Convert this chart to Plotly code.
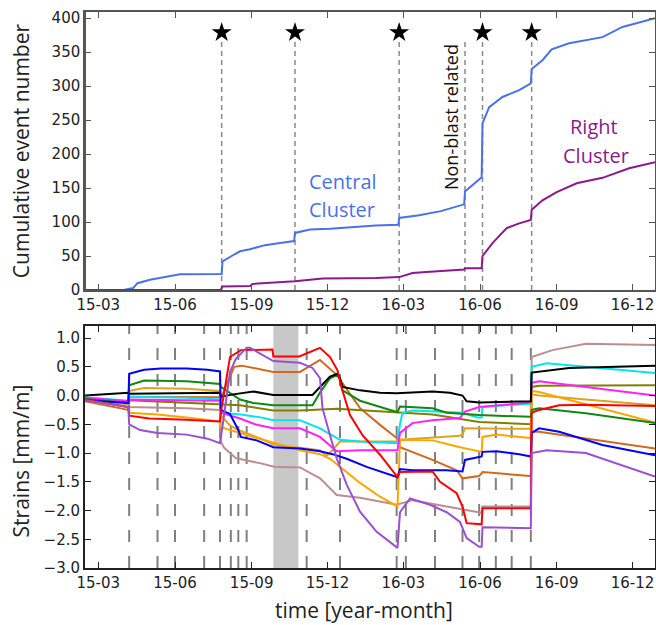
import plotly.graph_objects as go

# ---------------- top panel data: cumulative events ----------------
central_t = ["2015-02-13", "2015-03-31", "2015-04-12", "2015-04-17", "2015-05-02", "2015-05-26", "2015-06-07",
             "2015-07-27", "2015-07-28", "2015-08-08", "2015-08-18", "2015-08-30", "2015-09-17", "2015-10-05",
             "2015-10-22", "2015-10-23", "2015-11-10", "2015-12-04", "2016-01-28", "2016-02-24", "2016-02-25",
             "2016-03-20", "2016-04-15", "2016-05-13", "2016-05-14", "2016-06-03", "2016-06-04", "2016-06-12",
             "2016-06-28", "2016-07-18", "2016-08-01", "2016-08-02", "2016-08-15", "2016-08-26", "2016-09-16",
             "2016-10-26", "2016-11-19", "2016-12-28"]
central_v = [0, 0, 3, 10, 15, 20, 23, 23.5, 42, 50, 57, 60, 66, 69, 72, 84, 89, 90, 95, 96, 106,
             110, 116, 126, 145, 166, 245, 269, 284, 294, 304, 325, 338, 354, 363, 372, 387, 400]

right_t = ["2015-02-13", "2015-07-26", "2015-07-28", "2015-08-30", "2015-09-02", "2015-10-23", "2015-11-25",
           "2016-01-28", "2016-02-25", "2016-03-12", "2016-04-02", "2016-05-13", "2016-05-14", "2016-06-03",
           "2016-06-04", "2016-06-16", "2016-07-03", "2016-07-18", "2016-08-01", "2016-08-02", "2016-08-15",
           "2016-09-01", "2016-09-25", "2016-10-26", "2016-11-27", "2016-12-28"]
right_v = [0, 0.5, 5, 6, 9, 13, 17, 17.5, 19, 25, 27, 30, 32, 32, 50, 69, 91, 98, 103, 118, 132,
           144, 157, 165, 179, 188]

blast_dates = ["2015-07-27", "2015-10-23", "2016-02-25", "2016-06-04", "2016-08-02"]
nonblast_date = "2016-05-14"
star_level = 379

# ---------------- bottom panel data: strains ----------------
blue_t = ["2015-02-13", "2015-04-06", "2015-04-07", "2015-04-25", "2015-05-15", "2015-06-15", "2015-07-10",
          "2015-07-25", "2015-07-26", "2015-08-06", "2015-08-16", "2015-08-19", "2015-09-07", "2015-09-22",
          "2015-09-27", "2015-10-29", "2015-11-22", "2015-12-07", "2015-12-24", "2016-01-17", "2016-02-22",
          "2016-02-23", "2016-02-26", "2016-03-12", "2016-04-22", "2016-05-10", "2016-05-11", "2016-05-14",
          "2016-05-31", "2016-06-03", "2016-06-04", "2016-06-21", "2016-07-18", "2016-07-31", "2016-08-01",
          "2016-08-02", "2016-08-11", "2016-09-04", "2016-10-26", "2016-12-28"]
blue_v = [-0.08, -0.13, 0.38, 0.45, 0.47, 0.47, 0.45, 0.42, -0.25, -0.32, -0.6, -0.72, -0.78, -0.88,
          -0.9, -0.92, -0.97, -1.02, -1.1, -1.24, -1.42, -1.42, -1.28, -1.3, -1.3, -1.32, -1.32, -1.12,
          -1.06, -1.06, -0.98, -0.97, -1.02, -1.06, -1.06, -0.65, -0.57, -0.63, -0.86, -1.04]

green_t = ["2015-02-13", "2015-04-06", "2015-04-07", "2015-04-25", "2015-06-15", "2015-07-25", "2015-07-26",
           "2015-08-11", "2015-08-18", "2015-09-03", "2015-09-27", "2015-11-13", "2015-11-22", "2015-12-04",
           "2015-12-13", "2015-12-16", "2015-12-19", "2016-01-09", "2016-02-02", "2016-02-22", "2016-02-23",
           "2016-02-26", "2016-04-05", "2016-04-22", "2016-05-31", "2016-07-31", "2016-08-01", "2016-08-02",
           "2016-08-11", "2016-10-06", "2016-12-28"]
green_v = [-0.06, -0.13, 0.18, 0.26, 0.25, 0.2, 0.15, 0.0, -0.07, -0.13, -0.17, -0.17, 0.05, 0.3,
           0.36, 0.3, 0.09, -0.09, -0.2, -0.29, -0.29, -0.19, -0.22, -0.3, -0.34, -0.37, -0.37, -0.25,
           -0.22, -0.31, -0.48]

black_t = ["2015-02-13", "2015-04-06", "2015-04-07", "2015-06-01", "2015-07-25", "2015-07-26", "2015-08-10",
           "2015-09-03", "2015-09-27", "2015-11-13", "2015-11-22", "2015-12-04", "2015-12-13", "2015-12-16",
           "2015-12-19", "2016-01-09", "2016-02-02", "2016-02-22", "2016-04-05", "2016-04-26", "2016-05-11",
           "2016-05-16", "2016-05-31", "2016-07-31", "2016-08-01", "2016-08-02", "2016-09-16", "2016-12-28"]
black_v = [0.0, 0.05, 0.03, 0.04, 0.05, -0.02, 0.02, 0.07, 0.01, 0.01, 0.15, 0.33, 0.38, 0.3,
           0.15, 0.09, 0.05, 0.04, 0.07, 0.05, 0.0, -0.1, -0.12, -0.1, -0.1, 0.4, 0.48, 0.52]

cyan_t = ["2015-02-13", "2015-04-06", "2015-04-07", "2015-06-15", "2015-07-25", "2015-07-26", "2015-08-19",
          "2015-09-12", "2015-09-27", "2015-10-29", "2015-11-22", "2015-12-16", "2016-01-09", "2016-02-22",
          "2016-02-23", "2016-02-26", "2016-02-29", "2016-03-12", "2016-04-22", "2016-05-11", "2016-05-29",
          "2016-06-03", "2016-06-04", "2016-07-31", "2016-08-01", "2016-08-02", "2016-08-20", "2016-10-06",
          "2016-12-28"]
cyan_v = [-0.03, -0.09, -0.02, -0.04, -0.07, -0.3, -0.33, -0.38, -0.43, -0.43, -0.57, -0.77, -0.8, -0.83,
          -0.83, -0.5, -0.3, -0.26, -0.28, -0.3, -0.38, -0.38, -0.2, -0.14, -0.14, 0.5, 0.56, 0.5, 0.39]

magenta_t = ["2015-02-13", "2015-04-06", "2015-04-07", "2015-06-15", "2015-07-25", "2015-07-26", "2015-08-18",
             "2015-09-07", "2015-09-27", "2015-10-29", "2015-11-22", "2015-12-12", "2016-01-09", "2016-02-22",
             "2016-02-23", "2016-02-26", "2016-03-12", "2016-04-05", "2016-05-08", "2016-05-14", "2016-05-31",
             "2016-07-31", "2016-08-01", "2016-08-02", "2016-08-11", "2016-10-06", "2016-12-28"]
magenta_v = [-0.04, -0.1, -0.07, -0.08, -0.09, -0.3, -0.4, -0.51, -0.57, -0.57, -0.72, -0.97, -0.95, -0.95,
             -0.95, -0.65, -0.48, -0.43, -0.39, -0.28, -0.2, -0.12, -0.12, 0.22, 0.25, 0.15, 0.0]

olive_t = ["2015-02-13", "2015-04-06", "2015-04-07", "2015-06-15", "2015-07-25", "2015-08-18", "2015-09-27",
           "2015-10-29", "2015-12-12", "2016-02-22", "2016-04-05", "2016-05-31", "2016-08-01", "2016-08-02",
           "2016-08-11", "2016-12-28"]
olive_v = [-0.05, -0.12, -0.08, -0.12, -0.15, -0.17, -0.26, -0.26, -0.23, -0.29, -0.33, -0.46, -0.5, 0.15,
           0.17, 0.18]

goldenrod_t = ["2015-02-13", "2015-04-06", "2015-04-07", "2015-04-25", "2015-06-15", "2015-07-25", "2015-07-26",
               "2015-08-06", "2015-08-16", "2015-09-12", "2015-09-27", "2015-10-29", "2015-11-22", "2015-11-30",
               "2015-12-07", "2015-12-16", "2016-02-22", "2016-02-26", "2016-04-22", "2016-05-08", "2016-05-11",
               "2016-05-14", "2016-07-31", "2016-08-01", "2016-08-02", "2016-08-11", "2016-10-06", "2016-12-28"]
goldenrod_v = [-0.06, -0.15, 0.08, 0.13, 0.12, 0.08, -0.35, -0.52, -0.6, -0.75, -0.85, -0.9, -0.95, -1.05,
               -0.95, -0.8, -0.8, -0.77, -0.72, -0.7, -0.68, -0.57, -0.58, -0.58, 0.02, 0.0, -0.07, -0.17]

orange_t = ["2015-02-13", "2015-04-06", "2015-04-07", "2015-05-11", "2015-06-15", "2015-07-25", "2015-07-26",
            "2015-08-10", "2015-09-03", "2015-09-22", "2015-10-29", "2015-11-22", "2015-12-04", "2015-12-16",
            "2016-01-09", "2016-02-02", "2016-02-22", "2016-02-23", "2016-02-26", "2016-04-05", "2016-05-08",
            "2016-05-31", "2016-06-03", "2016-06-04", "2016-06-21", "2016-07-31", "2016-08-01", "2016-08-02",
            "2016-08-11", "2016-12-28"]
orange_v = [-0.08, -0.2, -0.3, -0.33, -0.38, -0.45, -0.55, -0.62, -0.72, -0.8, -0.95, -1.02, -1.1, -1.24,
            -1.52, -1.76, -1.93, -1.93, -0.77, -0.78, -0.9, -0.98, -0.98, -0.72, -0.68, -0.74, -0.74, 0.08,
            0.06, -0.47]

red_t = ["2015-02-13", "2015-04-06", "2015-04-07", "2015-05-01", "2015-06-15", "2015-07-25", "2015-07-26",
         "2015-08-06", "2015-08-19", "2015-09-26", "2015-09-27", "2015-10-28", "2015-11-22", "2015-12-04",
         "2015-12-13", "2015-12-18", "2015-12-28", "2016-01-12", "2016-02-02", "2016-02-22", "2016-02-23",
         "2016-02-26", "2016-04-05", "2016-04-14", "2016-05-04", "2016-05-11", "2016-05-16", "2016-06-03",
         "2016-06-04", "2016-08-01", "2016-08-02", "2016-08-11", "2016-09-04", "2016-10-06", "2016-12-28"]
red_v = [-0.07, -0.2, -0.35, -0.4, -0.42, -0.45, -0.3, 0.67, 0.79, 0.8, 0.68, 0.68, 0.83, 0.67,
         0.44, 0.13, -0.34, -0.69, -1.03, -1.42, -1.42, -1.33, -1.32, -1.5, -1.7, -1.93, -2.22, -2.24,
         -1.96, -1.96, -0.3, -0.25, -0.17, -0.16, -0.18]

purple_t = ["2015-02-13", "2015-04-06", "2015-04-07", "2015-04-20", "2015-05-11", "2015-06-15", "2015-07-10",
            "2015-07-25", "2015-07-30", "2015-08-06", "2015-08-13", "2015-08-26", "2015-08-30", "2015-09-27",
            "2015-10-29", "2015-11-13", "2015-11-22", "2015-11-25", "2015-12-04", "2015-12-12", "2015-12-24",
            "2016-01-09", "2016-01-29", "2016-02-22", "2016-02-23", "2016-02-26", "2016-03-09", "2016-04-02",
            "2016-04-22", "2016-05-08", "2016-05-16", "2016-05-31", "2016-06-03", "2016-06-04", "2016-07-31",
            "2016-08-01", "2016-08-02", "2016-08-20", "2016-10-06", "2016-12-28"]
purple_v = [-0.08, -0.2, -0.5, -0.6, -0.65, -0.68, -0.75, -0.83, -0.33, 0.41, 0.64, 0.83, 0.83, 0.6,
            0.57, 0.48, 0.3, -0.22, -0.69, -1.09, -1.55, -2.02, -2.37, -2.65, -2.65, -2.03, -1.79, -1.9,
            -2.03, -2.2, -2.48, -2.63, -2.63, -2.29, -2.31, -2.31, -1.0, -0.95, -1.0, -1.41]

rosy_t = ["2015-02-13", "2015-04-06", "2015-04-07", "2015-06-15", "2015-07-25", "2015-07-26", "2015-07-30",
          "2015-08-13", "2015-09-12", "2015-09-28", "2015-10-29", "2015-11-22", "2015-12-12", "2016-01-09",
          "2016-02-22", "2016-03-12", "2016-04-22", "2016-05-31", "2016-06-03", "2016-06-04", "2016-08-01",
          "2016-08-02", "2016-08-27", "2016-10-06", "2016-12-28"]
rosy_v = [-0.05, -0.15, -0.2, -0.22, -0.25, -0.8, -0.91, -1.09, -1.18, -1.24, -1.25, -1.44, -1.73, -1.78,
          -1.9, -1.82, -1.93, -2.04, -2.04, -1.93, -1.93, 0.67, 0.79, 0.9, 0.88]

choco_t = ["2015-02-13", "2015-04-06", "2015-04-07", "2015-06-15", "2015-07-25", "2015-07-26", "2015-08-11",
           "2015-08-20", "2015-09-27", "2015-10-29", "2015-11-22", "2015-12-12", "2016-01-09", "2016-02-02",
           "2016-02-22", "2016-02-26", "2016-04-05", "2016-05-04", "2016-05-11", "2016-05-31", "2016-06-04",
           "2016-07-31", "2016-08-01", "2016-08-02", "2016-08-11", "2016-12-28"]
choco_v = [-0.1, -0.25, -0.02, -0.02, -0.03, -0.05, 0.5, 0.52, 0.41, 0.41, 0.62, 0.36, -0.22, -0.51,
           -0.74, -0.9, -1.12, -1.3, -1.44, -1.4, -1.33, -1.4, -1.4, -0.63, -0.63, -0.92]

strain_events = ["2015-04-07", "2015-05-11", "2015-06-01", "2015-07-06", "2015-07-25", "2015-08-07",
                 "2015-08-16", "2015-08-26", "2015-11-06", "2015-12-16", "2016-02-22", "2016-03-04",
                 "2016-04-08", "2016-05-11", "2016-05-31", "2016-06-20", "2016-07-09", "2016-08-01"]
quiet_period = ["2015-09-27", "2015-10-27"]

tick_dates = ["2015-03-01", "2015-06-01", "2015-09-01", "2015-12-01",
              "2016-03-01", "2016-06-01", "2016-09-01", "2016-12-01"]
tick_text = ["15-03", "15-06", "15-09", "15-12", "16-03", "16-06", "16-09", "16-12"]
x_range = ["2015-02-13", "2016-12-28"]

strain_series = [
    (rosy_t, rosy_v, "#BC8F8F"),
    (choco_t, choco_v, "#D2691E"),
    (olive_t, olive_v, "#808000"),
    (goldenrod_t, goldenrod_v, "#DAA520"),
    (orange_t, orange_v, "#FFA500"),
    (cyan_t, cyan_v, "#00E5EE"),
    (magenta_t, magenta_v, "#FF22FF"),
    (green_t, green_v, "#118811"),
    (black_t, black_v, "#000000"),
    (blue_t, blue_v, "#0000FF"),
    (red_t, red_v, "#FF0000"),
    (purple_t, purple_v, "#9B4FD1"),
]

fig = go.Figure()

fig.add_trace(go.Scatter(x=central_t, y=central_v, mode="lines", line=dict(color="#4A72E8", width=2),
                         xaxis="x", yaxis="y", showlegend=False))
fig.add_trace(go.Scatter(x=right_t, y=right_v, mode="lines", line=dict(color="#8B1A8B", width=2),
                         xaxis="x", yaxis="y", showlegend=False))
fig.add_trace(go.Scatter(x=blast_dates, y=[star_level] * len(blast_dates), mode="markers",
                         marker=dict(symbol="star", size=15, color="black"),
                         xaxis="x", yaxis="y", showlegend=False))

for t, v, c in strain_series:
    fig.add_trace(go.Scatter(x=t, y=v, mode="lines", line=dict(color=c, width=2),
                             xaxis="x2", yaxis="y2", showlegend=False))

shapes = []
for d in blast_dates + [nonblast_date]:
    shapes.append(dict(type="line", xref="x", yref="y", x0=d, x1=d, y0=0, y1=366,
                       line=dict(color="#8a8a8a", width=1.5, dash="5px,4px"), layer="below"))
shapes.append(dict(type="line", xref="x", yref="y domain", x0=x_range[0], x1=x_range[0], y0=0, y1=1,
                   line=dict(color="#E02020", width=2)))
shapes.append(dict(type="rect", xref="x2", yref="y2 domain", x0=quiet_period[0], x1=quiet_period[1],
                   y0=0, y1=1, fillcolor="#C8C8C8", line=dict(width=0), layer="below"))
for d in strain_events:
    shapes.append(dict(type="line", xref="x2", yref="y2 domain", x0=d, x1=d, y0=0, y1=1,
                       line=dict(color="#808080", width=2, dash="12px,14px"), layer="below"))

tickfont = dict(family="DejaVu Sans", size=15, color="#222")
title_font = dict(family="Open Sans", size=21, color="#222")
label_size = 20

annotations = [
    dict(text="Cumulative event number", xref="paper", yref="paper", x=-0.112, y=0.75, textangle=-90,
         showarrow=False, font=title_font, xanchor="center", yanchor="middle"),
    dict(text="Strains [mm/m]", xref="paper", yref="paper", x=-0.112, y=0.192, textangle=-90,
         showarrow=False, font=title_font, xanchor="center", yanchor="middle"),
    dict(text="time [year-month]", xref="paper", yref="paper", x=0.49, y=-0.0755,
         showarrow=False, font=title_font, xanchor="center", yanchor="middle"),
    dict(text="Central", xref="x", yref="y", x="2015-12-19", y=159, showarrow=False,
         font=dict(family="Open Sans", size=label_size, color="#4A72E8")),
    dict(text="Cluster", xref="x", yref="y", x="2015-12-18", y=118, showarrow=False,
         font=dict(family="Open Sans", size=label_size, color="#4A72E8")),
    dict(text="Right", xref="x", yref="y", x="2016-10-16", y=240, showarrow=False,
         font=dict(family="Open Sans", size=label_size, color="#8B1A8B")),
    dict(text="Cluster", xref="x", yref="y", x="2016-10-18", y=198, showarrow=False,
         font=dict(family="Open Sans", size=label_size, color="#8B1A8B")),
    dict(text="Non-blast related", xref="x", yref="y", x="2016-04-28", y=254, textangle=-90,
         showarrow=False, font=dict(family="Open Sans", size=18, color="#111")),
]

common_x = dict(type="date", range=x_range, tickvals=tick_dates, ticktext=tick_text, ticks="inside",
                ticklen=6, mirror="allticks", showline=True, showgrid=False, zeroline=False,
                tickfont=tickfont, automargin=False)

fig.update_layout(
    width=656, height=625,
    margin=dict(l=85, r=1, t=12, b=57),
    paper_bgcolor="white", plot_bgcolor="white",
    xaxis=dict(common_x, domain=[0, 1], anchor="y", linecolor="#555", linewidth=1.5, tickcolor="#555"),
    yaxis=dict(domain=[0.5, 1.0], anchor="x", range=[0, 409], tickvals=list(range(0, 401, 50)),
               ticks="inside", ticklen=6, mirror="allticks", showline=True, linecolor="#555", linewidth=1.5,
               tickcolor="#555", showgrid=False, zeroline=False, tickfont=tickfont, automargin=False),
    xaxis2=dict(common_x, domain=[0, 1], anchor="y2", linecolor="#222", linewidth=2, tickcolor="#222"),
    yaxis2=dict(domain=[0, 0.4353], anchor="x2", range=[-3.0, 1.21],
                tickvals=[1.0, 0.5, 0.0, -0.5, -1.0, -1.5, -2.0, -2.5, -3.0], tickformat=".1f",
                ticks="inside", ticklen=6, mirror="allticks", showline=True, linecolor="#222", linewidth=2,
                tickcolor="#222", showgrid=False, zeroline=False, tickfont=tickfont, automargin=False),
    shapes=shapes,
    annotations=annotations,
)

fig.write_html("out.html", config={"displayModeBar": False},
               post_script="document.body.style.margin='0px';document.body.style.overflow='hidden';")
